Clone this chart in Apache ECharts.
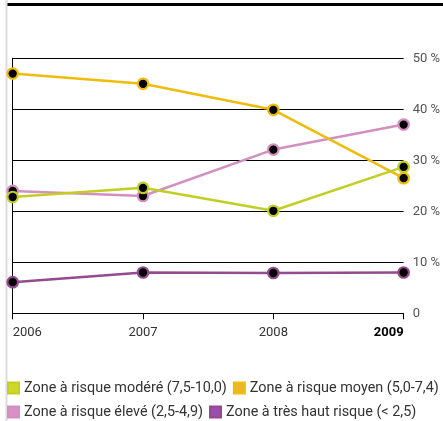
<!DOCTYPE html>
<html>
<head>
<meta charset="utf-8">
<script src="https://cdn.jsdelivr.net/npm/echarts@6/dist/echarts.min.js"></script>
<style>
html,body{margin:0;padding:0;background:#fff;}
#c{width:443px;height:421px;}
</style>
</head>
<body>
<div id="c"></div>
<script>
const years = ['2006', '2007', '2008', '2009'];
const moderate = [22.8, 24.6, 20.1, 28.7];
const moyen = [47.0, 45.0, 39.9, 26.5];
const eleve = [24.0, 23.0, 32.1, 37.0];
const tresHaut = [6.1, 8.0, 7.9, 8.0];
const names = [
  'Zone à risque modéré (7,5-10,0)',
  'Zone à risque moyen (5,0-7,4)',
  'Zone à risque élevé (2,5-4,9)',
  'Zone à très haut risque (< 2,5)'
];
const lineColors = ['#c3ce25', '#efbc0c', '#d48fc1', '#944a8f'];
const legendColors = ['#ccd92a', '#ebb829', '#d891c6', '#9a4fae'];
const yTicks = [0, 10, 20, 30, 40, 50];

const FONT = 'Roboto';
const chart = echarts.init(document.getElementById('c'), null, {renderer: 'canvas'});

function mkSeries(i, data, z) {
  return {
    name: names[i],
    type: 'line',
    data: data,
    z: z,
    symbol: 'circle',
    symbolSize: 10.5,
    lineStyle: {color: lineColors[i], width: 2.5},
    itemStyle: {color: '#000', borderColor: lineColors[i], borderWidth: 2.2},
    emphasis: {disabled: true},
    animation: false
  };
}

const legendBase = {
  orient: 'horizontal',
  left: 7,
  width: 600,
  padding: 0,
  itemWidth: 11,
  itemHeight: 11,
  itemGap: 6,
  icon: 'rect',
  textStyle: {fontFamily: FONT, fontSize: 14.4, color: '#333'},
  selectedMode: false
};

chart.setOption({
  animation: false,
  backgroundColor: '#fff',
  grid: {left: 12.7, right: 35, top: 58.3, bottom: 107.7, containLabel: false},
  xAxis: {
    type: 'category',
    data: years,
    boundaryGap: false,
    axisLine: {show: true, lineStyle: {color: '#000', width: 1}},
    axisTick: {show: true, length: 6, lineStyle: {color: '#000', width: 1}},
    axisLabel: {
      margin: 13,
      fontFamily: FONT,
      fontSize: 13,
      color: '#333',
      alignMinLabel: 'left',
      alignMaxLabel: 'right',
      formatter: function (v) { return v === '2009' ? '{b|' + v + '}' : v; },
      rich: {b: {fontWeight: 'bold', fontFamily: FONT, fontSize: 13, color: '#000'}}
    },
    splitLine: {show: false}
  },
  yAxis: [{
    type: 'value',
    position: 'right',
    min: 0,
    max: 50,
    interval: 10,
    axisLine: {show: false},
    axisTick: {show: false},
    axisLabel: {
      margin: 9,
      fontFamily: FONT,
      fontSize: 13,
      color: '#555',
      formatter: function (v) { return v === 0 ? '0' : v + ' %'; }
    },
    splitLine: {show: true, lineStyle: {color: '#000', width: 1}}
  }, {
    type: 'value',
    position: 'left',
    min: 0,
    max: 50,
    interval: 10,
    axisLine: {show: true, lineStyle: {color: '#000', width: 1}},
    axisTick: {show: false},
    axisLabel: {show: false},
    splitLine: {show: false}
  }],
  legend: [
    Object.assign({}, legendBase, {
      top: 381,
      data: [
        {name: names[0], itemStyle: {color: legendColors[0]}},
        {name: names[1], itemStyle: {color: legendColors[1]}}
      ]
    }),
    Object.assign({}, legendBase, {
      top: 405,
      data: [
        {name: names[2], itemStyle: {color: legendColors[2]}},
        {name: names[3], itemStyle: {color: legendColors[3]}}
      ]
    })
  ],
  graphic: [
    {type: 'rect', shape: {x: 6, y: 3, width: 437, height: 3}, style: {fill: '#000'}, silent: true},
    {type: 'rect', shape: {x: 5.5, y: 0, width: 2, height: 421}, style: {fill: '#dcdcdc'}, silent: true}
  ],
  series: [
    mkSeries(3, tresHaut, 2),
    mkSeries(2, eleve, 3),
    mkSeries(1, moyen, 4),
    mkSeries(0, moderate, 5)
  ]
});
</script>
</body>
</html>
